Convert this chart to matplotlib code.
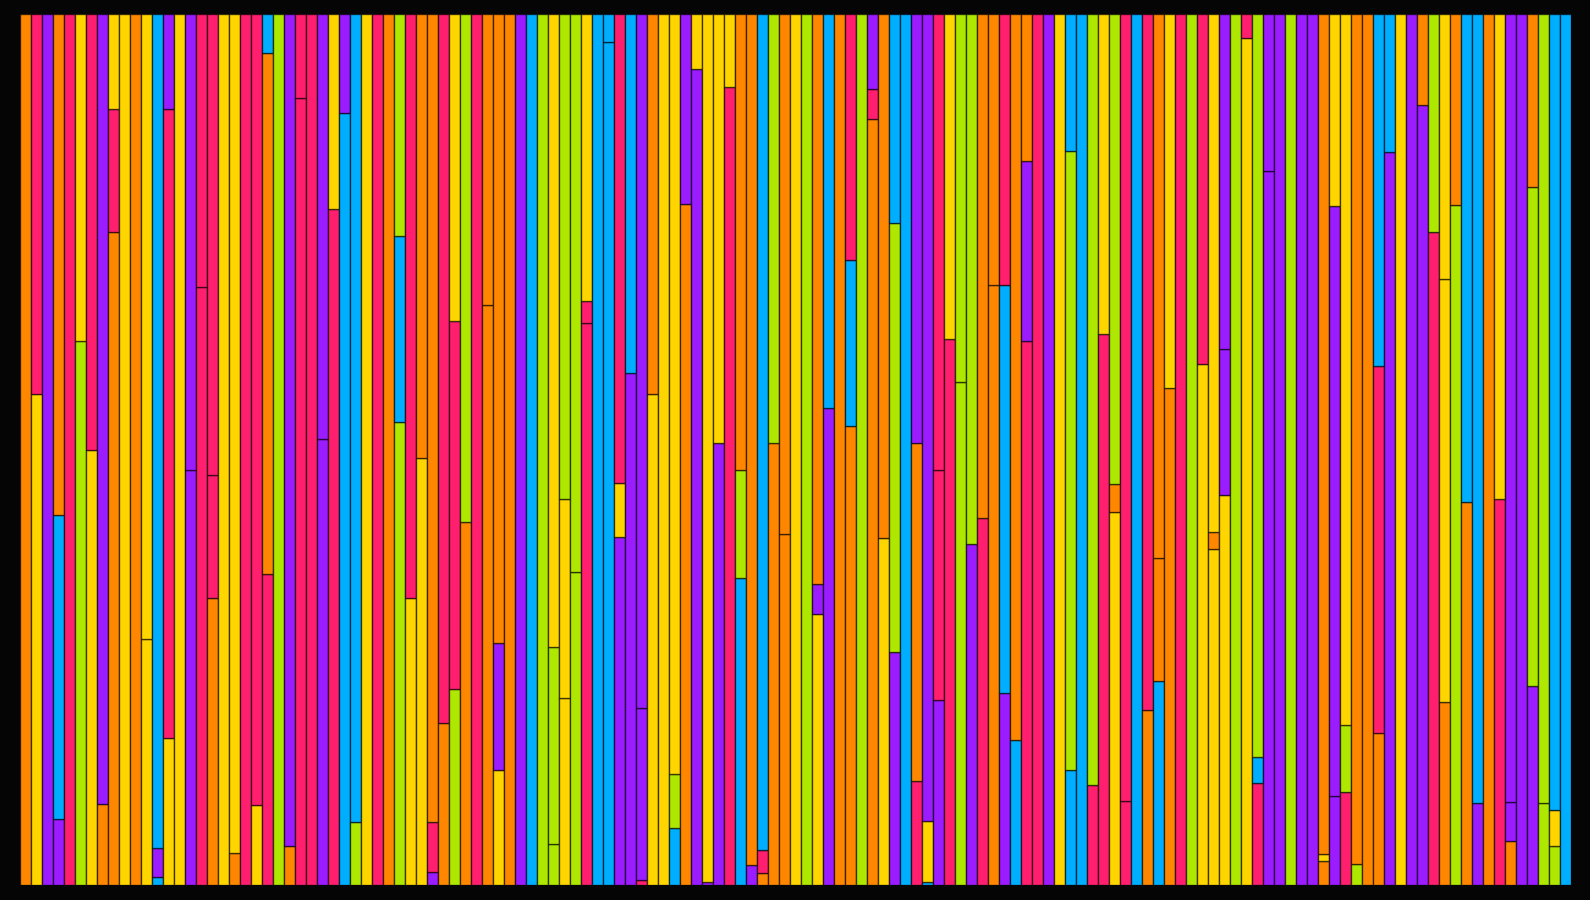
import numpy as np
import matplotlib.pyplot as plt

# colour keys: O orange, R pink, V purple, Y yellow, L lime, B blue
palette = {
    "O": "#FF8700",
    "R": "#FF1F6E",
    "V": "#9B1CFF",
    "Y": "#FFD500",
    "L": "#AEE800",
    "B": "#00AEFF",
}

# segment colours of each column, bottom to top
seg_colors = [
    "O", "YR", "V", "VBO", "R", "LY", "YR", "OV", "ORY", "Y",
    "O", "YY", "BVB", "YRV", "Y", "VV", "RR", "ORR", "Y", "OY",
    "R", "YR", "ROB", "L", "OV", "RR", "R", "VV", "RY", "BV",
    "LB", "Y", "R", "O", "LBL", "YR", "YO", "VRO", "OR", "LRY",
    "OL", "R", "OO", "YVO", "O", "V", "B", "L", "LLY", "YYL",
    "LL", "RRY", "B", "BB", "VYR", "VB", "RVV", "YO", "Y", "BLY",
    "OV", "VY", "VY", "VY", "RY", "BLO", "VO", "ORB", "OL", "OO",
    "Y", "L", "YVO", "VB", "O", "OBR", "L", "ORV", "YO", "VLB",
    "B", "ROV", "BYV", "VRR", "RY", "LL", "VL", "RO", "OO", "VBR",
    "BO", "RVO", "R", "V", "Y", "BLB", "B", "RL", "RY", "YOL",
    "RR", "B", "OR", "BOO", "OY", "R", "L", "YR", "YOY", "YVV",
    "L", "YR", "RBL", "VV", "V", "L", "V", "V", "OYO", "VVY",
    "RLY", "LO", "O", "ORB", "VB", "Y", "V", "VO", "RL", "OYY",
    "LO", "OB", "VB", "O", "RY", "OVV", "V", "VLO", "LL", "LYB",
    "B",
]

# top of each segment as a share of the column
seg_tops = [
    [1], [.564, 1], [1], [.076, .425, 1], [1], [.625, 1], [.499, 1], [.093, 1], [.750, .891, 1], [1],
    [1], [.282, 1], [.009, .043, 1], [.169, .891, 1], [1], [.477, 1], [.687, 1], [.330, .471, 1], [1], [.037, 1],
    [1], [.092, 1], [.357, .955, 1], [1], [.045, 1], [.904, 1], [1], [.512, 1], [.776, 1], [.886, 1],
    [.072, 1], [1], [1], [1], [.531, .745, 1], [.330, 1], [.490, 1], [.015, .072, 1], [.186, 1], [.225, .647, 1],
    [.417, 1], [1], [.666, 1], [.132, .278, 1], [1], [1], [1], [1], [.047, .273, 1], [.215, .443, 1],
    [.359, 1], [.645, .671, 1], [1], [.968, 1], [.400, .462, 1], [.588, 1], [.006, .203, 1], [.564, 1], [1], [.065, .128, 1],
    [.782, 1], [.937, 1], [.004, 1], [.508, 1], [.916, 1], [.352, .477, 1], [.023, 1], [.014, .040, 1], [.507, 1], [.403, 1],
    [1], [1], [.311, .346, 1], [.548, 1], [1], [.527, .717, 1], [1], [.879, .914, 1], [.398, 1], [.267, .760, 1],
    [1], [.119, .508, 1], [.003, .074, 1], [.212, .477, 1], [.627, 1], [.577, 1], [.392, 1], [.421, 1], [.689, 1], [.221, .689, 1],
    [.167, 1], [.625, .831, 1], [1], [1], [1], [.132, .843, 1], [1], [.115, 1], [.633, 1], [.428, .460, 1],
    [.097, 1], [1], [.201, 1], [.234, .375, 1], [.571, 1], [1], [1], [.598, 1], [.386, .405, 1], [.448, .615, 1],
    [1], [.972, 1], [.117, .147, 1], [.820, 1], [1], [1], [1], [1], [.028, .036, 1], [.102, .780, 1],
    [.107, .184, 1], [.024, 1], [1], [.175, .596, 1], [.841, 1], [1], [1], [.895, 1], [.750, 1], [.210, .696, 1],
    [.781, 1], [.440, 1], [.094, 1], [1], [.443, 1], [.050, .095, 1], [1], [.228, .801, 1], [.094, 1], [.045, .086, 1],
    [1],
]

fig = plt.figure(figsize=(15.9, 9), dpi=100, facecolor="#050505")
ax = fig.add_axes([20 / 1590, 15 / 900, 1551 / 1590, 871 / 900])
ax.set_facecolor("#050505")

for i, (cols, tops) in enumerate(zip(seg_colors, seg_tops)):
    tops = np.array(tops)
    bottoms = np.concatenate([[0], tops[:-1]])
    ax.bar([i] * len(tops), tops - bottoms, bottom=bottoms, width=1,
           color=[palette[c] for c in cols],
           edgecolor=(0, 0, 0, 0.6), linewidth=1)

ax.set_xlim(-0.5, len(seg_tops) - 0.5)
ax.set_ylim(0, 1)
ax.axis("off")

fig.savefig("out.png", dpi=100, facecolor=fig.get_facecolor())
